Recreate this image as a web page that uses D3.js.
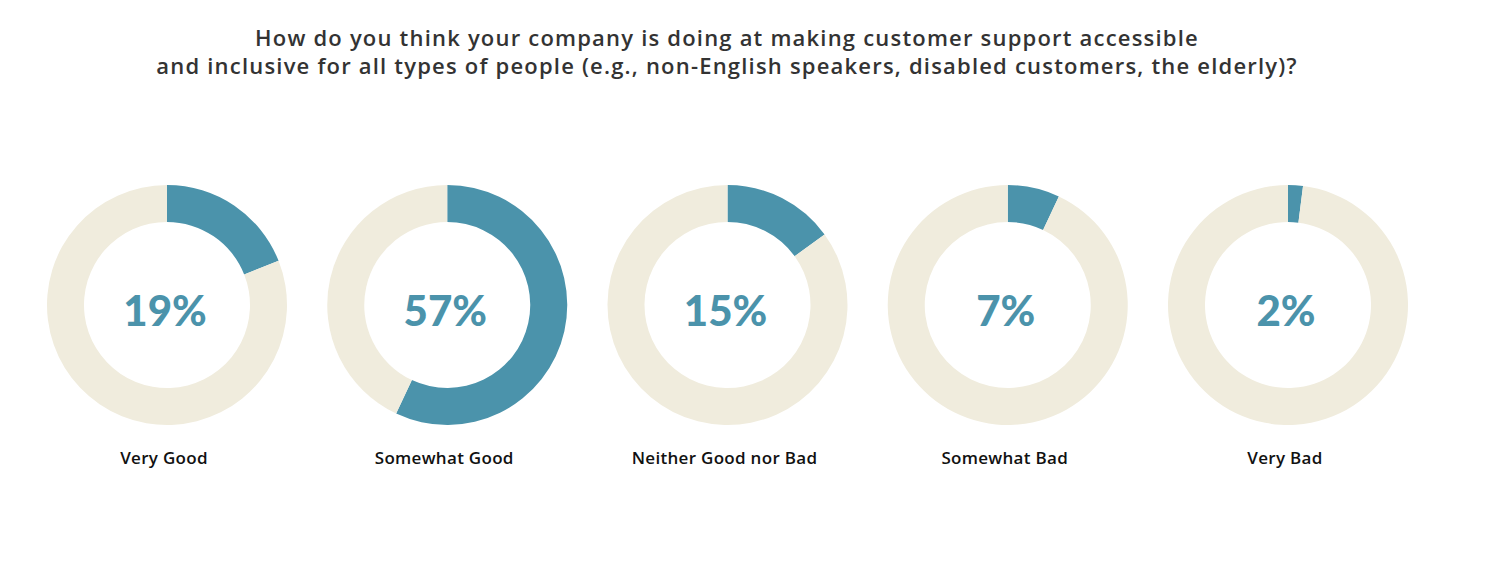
<!DOCTYPE html>
<html>
<head>
<meta charset="utf-8">
<script src="https://cdn.jsdelivr.net/npm/d3@7"></script>
<style>
  html, body { margin: 0; padding: 0; background: #fff; }
  svg { display: block; font-family: "Open Sans", Lato, sans-serif; }
</style>
</head>
<body>
<div id="chart"></div>
<script>
/* ── donut row: accessibility of customer support ───────────── */

const TITLE_LINES = [
  'How do you think your company is doing at making customer support accessible',
  'and inclusive for all types of people (e.g., non-English speakers, disabled customers, the elderly)?'
];
const categories = ['Very Good', 'Somewhat Good', 'Neither Good nor Bad', 'Somewhat Bad', 'Very Bad'];
const values     = [19, 57, 15, 7, 2];

// ── layout ───────────────────────────────────────────────────
const W = 1485, H = 564;
const CY = 305;
const R_OUT = 120, R_IN = 83;
const TEAL = '#4b93ab', BEIGE = '#f0ecdd';

const svg = d3.select('#chart').append('svg')
  .attr('width', W).attr('height', H);

svg.append('g').selectAll('text')
  .data(TITLE_LINES)
  .join('text')
  .attr('x', 727).attr('y', (_, i) => 45.5 + i * 28)
  .attr('text-anchor', 'middle')
  .attr('font-size', 22).attr('font-weight', 600)
  .attr('letter-spacing', 1.2)
  .attr('fill', '#333')
  .text(d => d);

const x = d3.scalePoint().domain(categories).range([167, 1288]);

const pie = d3.pie().sort(null).value(d => d);
const arc = d3.arc().innerRadius(R_IN).outerRadius(R_OUT);

const donuts = svg.selectAll('.donut')
  .data(categories.map((c, i) => ({ cat: c, value: values[i] })))
  .join('g')
  .attr('class', 'donut')
  .attr('transform', d => `translate(${x(d.cat)},${CY})`);

donuts.selectAll('path')
  .data(d => pie([d.value, 100 - d.value]))
  .join('path')
  .attr('d', arc)
  .attr('fill', (_, i) => i === 0 ? TEAL : BEIGE);

donuts.append('text')
  .attr('y', 21).attr('x', -2)
  .attr('text-anchor', 'middle')
  .attr('font-family', 'Lato, sans-serif')
  .attr('font-size', 42).attr('font-weight', 900)
  .attr('fill', TEAL)
  .text(d => `${d.value}%`);

donuts.append('text')
  .attr('y', 159).attr('x', -3)
  .attr('text-anchor', 'middle')
  .attr('font-size', 17).attr('font-weight', 600)
  .attr('letter-spacing', 0.3)
  .attr('fill', '#111')
  .text(d => d.cat);
</script>
</body>
</html>
